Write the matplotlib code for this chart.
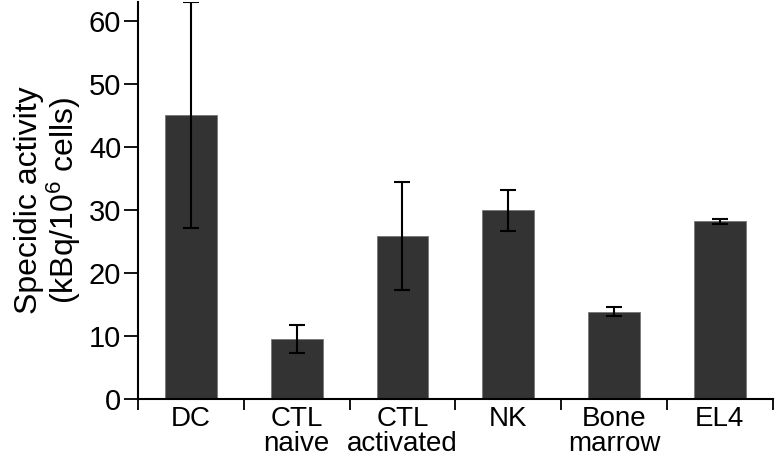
import numpy as np
import matplotlib.pyplot as plt
from matplotlib.ticker import FixedLocator

plt.rcParams['font.family'] = ['Liberation Sans', 'DejaVu Sans']
plt.rcParams['mathtext.default'] = 'regular'

# data
categories = ["DC", "CTL\nnaive", "CTL\nactivated", "NK", "Bone\nmarrow", "EL4"]
activity = [45.0, 9.5, 25.8, 29.9, 13.8, 28.2]
err = [17.9, 2.3, 8.6, 3.3, 0.7, 0.4]

fig = plt.figure(figsize=(7.75, 4.59), dpi=100)
ax = fig.add_axes([0.178, 0.131, 0.819, 0.865])

x = np.arange(len(categories))
ax.bar(x, activity, width=0.49, color='#333333', edgecolor='#777777', linewidth=0.6,
       yerr=err, capsize=6, error_kw=dict(ecolor='black', elinewidth=1.5, capthick=1.5))

ax.set_xlim(-0.5, len(categories) - 0.5)
ax.set_ylim(0, 63)
ax.set_yticks(np.arange(0, 61, 10))
ax.set_xticks(x)
ax.set_xticklabels(categories, fontsize=20, linespacing=0.95)
ax.xaxis.set_minor_locator(FixedLocator(np.arange(-0.5, len(categories), 1.0)))
ax.tick_params(axis='x', which='major', length=0, pad=5)
ax.tick_params(axis='x', which='minor', length=8, width=1.3, direction='out')
ax.tick_params(axis='y', length=10, width=1.3, labelsize=21, pad=2)

for s in ['top', 'right']:
    ax.spines[s].set_visible(False)
for s in ['left', 'bottom']:
    ax.spines[s].set_linewidth(1.5)

ax.set_ylabel("Specidic activity\n(kBq/10$^{6}$ cells)", fontsize=23, linespacing=1.05, labelpad=4)

fig.savefig('out.png', dpi=100)
